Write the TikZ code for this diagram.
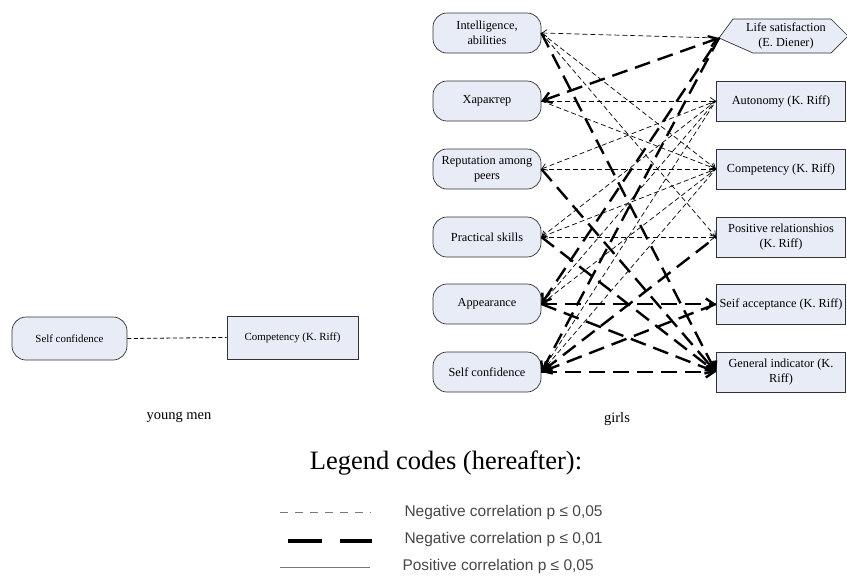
\documentclass[tikz,border=0pt]{standalone}
\usepackage{fontspec}
\setmainfont{Liberation Serif}
\newfontfamily\legfont{Liberation Sans}
\usetikzlibrary{arrows.meta}
\definecolor{nodefill}{RGB}{231,236,246}
\definecolor{edgegray}{RGB}{50,50,50}
\definecolor{legtext}{RGB}{70,70,70}
\definecolor{leggray}{RGB}{120,120,120}
\begin{document}
\begin{tikzpicture}[x=1pt,y=-1pt,
  gfont/.style={font=\fontsize{12.3}{14.6}\selectfont},
  yfont/.style={font=\fontsize{10.9}{13}\selectfont},
  lnode/.style={draw=edgegray, line width=0.7pt, fill=nodefill, rounded corners=14pt,
     minimum width=108pt, minimum height=40pt, align=center, inner sep=0pt, gfont},
  rnode/.style={draw=edgegray, line width=0.7pt, fill=nodefill,
     minimum width=129.5pt, minimum height=40pt, align=center, inner sep=0pt, gfont},
  tw/.style={line width=0.7pt, dash pattern=on 5pt off 3pt},
  ts/.style={line width=2.4pt, dash pattern=on 16pt off 8pt},
  aR/.style={-{Straight Barb[length=5pt,width=7pt]}},
  aL/.style={{Straight Barb[length=5pt,width=7pt]}-},
  AR/.style={-{Straight Barb[length=8pt,width=11pt]}},
  AL/.style={{Straight Barb[length=8pt,width=11pt]}-},
  AB/.style={{Straight Barb[length=8pt,width=11pt]}-{Straight Barb[length=8pt,width=11pt]}},
  lbl/.style={font=\fontsize{14.5}{17}\selectfont},
  legtxt/.style={anchor=west, text=legtext, font=\legfont\fontsize{15.5}{18}\selectfont}
]
\useasboundingbox (0,0) rectangle (847,576);

% ---------- young men ----------
\node[lnode, yfont, minimum width=115pt, minimum height=43pt] (ySC) at (69.5,338.5) {Self confidence};
\node[rnode, yfont, minimum width=131pt, minimum height=43pt, rounded corners=0pt] (yC) at (292.5,337.5) {Competency (K. Riff)};
\draw[line width=0.8pt, dash pattern=on 4pt off 2.5pt] (ySC.east) -- (yC.west);
\node[lbl] (ymen) at (179,417) {young men};

% ---------- girls: left ----------
\node[lnode] (L1) at (487,33) {Intelligence,\\abilities};
\node[lnode] (L2) at (487,101) {Характер};
\node[lnode] (L3) at (487,169) {Reputation among\\peers};
\node[lnode] (L4) at (487,237) {Practical skills};
\node[lnode] (L5) at (487,304) {Appearance};
\node[lnode] (L6) at (487,372) {Self confidence};

% ---------- girls: right ----------
\draw[draw=edgegray, line width=0.7pt, fill=nodefill]
  (719,38) -- (733,19) -- (831,19) -- (848,36) -- (831,53) -- (753,53) -- cycle;
\coordinate (R1a) at (719,38);
\node[gfont, align=center, inner sep=0pt] (R1) at (786,36) {Life satisfaction\\(E. Diener)};
\node[rnode] (R2) at (781,101) {Autonomy (K. Riff)};
\node[rnode] (R3) at (781,169) {Competency (K. Riff)};
\node[rnode] (R4) at (781,237) {Positive relationshios\\(K. Riff)};
\node[rnode] (R5) at (781,304) {Seif acceptance (K. Riff)};
\node[rnode] (R6) at (781,372) {General indicator (K.\\Riff)};

\node[lbl] (girls) at (617,419) {girls};

% ---------- thin connectors ----------
\draw[tw, aL] (L1.east) -- (R1a);
\draw[tw, aR] (L1.east) -- (R3.west);
\draw[tw, aR] (L1.east) -- (R4.west);
\draw[tw, aR] (L2.east) -- (R2.west);
\draw[tw, aR] (L2.east) -- (R3.west);
\draw[tw, aL] (L3.east) -- (R2.west);
\draw[tw, aR] (L3.east) -- (R3.west);
\draw[tw, aL] (L4.east) -- (R2.west);
\draw[tw, aL] (L4.east) -- (R3.west);
\draw[tw, aR] (L4.east) -- (R4.west);
\draw[tw, aL] (L5.east) -- (R2.west);
\draw[tw, aL] (L5.east) -- (R3.west);
\draw[tw, aL] (L6.east) -- (R2.west);
\draw[tw, aL] (L6.east) -- (R3.west);

% ---------- thick connectors ----------
\draw[ts, AR] (L1.east) -- (R6.west);
\draw[ts, AB] (L2.east) -- (R1a);
\draw[ts, AR] (L3.east) -- (R6.west);
\draw[ts, AR] (L4.east) -- (R6.west);
\draw[ts, AL] (L5.east) -- (R1a);
\draw[ts, AR] (L5.east) -- (R5.west);
\draw[ts, AR] (L5.east) -- (R6.west);
\draw[ts, AL] (L6.east) -- (R1a);
\draw[ts, AL] (L6.east) -- (R4.west);
\draw[ts, AL] (L6.east) -- (R5.west);
\draw[ts, AR] (L6.east) -- (R6.west);

% ---------- legend ----------
\node[font=\fontsize{26.5}{31}\selectfont] (legtitle) at (446,463) {Legend codes (hereafter):};

\coordinate (la1) at (280,512); \coordinate (lb1) at (371,512);
\coordinate (la2) at (288,541); \coordinate (lb2) at (372,541);
\coordinate (la3) at (280,567); \coordinate (lb3) at (370,567);
\draw[draw=leggray, line width=1pt, dash pattern=on 8pt off 7pt] (la1) -- (lb1);
\draw[line width=3.5pt, dash pattern=on 34pt off 18pt] (la2) -- (lb2);
\draw[draw=leggray, line width=0.9pt] (la3) -- (lb3);

\node[legtxt] (t1) at (401,512) {Negative correlation p ≤ 0,05};
\node[legtxt] (t2) at (401,539) {Negative correlation p ≤ 0,01};
\node[legtxt] (t3) at (399,566) {Positive correlation p ≤ 0,05};
\end{tikzpicture}
\end{document}
